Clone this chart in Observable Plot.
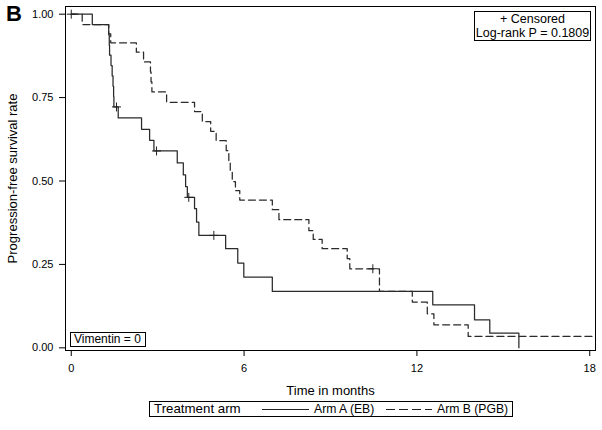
<!DOCTYPE html>
<html><head><meta charset="utf-8">
<script src="https://cdn.jsdelivr.net/npm/d3@7"></script>
<script src="https://cdn.jsdelivr.net/npm/@observablehq/plot@0.6"></script>
<style>
body{margin:0;background:#fff;font-family:"Liberation Sans",Arial,sans-serif;color:#000;}
#wrap{position:relative;width:602px;height:430px;overflow:hidden;}
.abs{position:absolute;white-space:nowrap;}
.box{position:absolute;border:1px solid #000;background:#fff;box-sizing:border-box;}
</style></head><body><div id="wrap"></div>
<script>
// Arm A (EB): Kaplan–Meier steps (time in months, survival after event)
const armA_time = [0, 0.73, 1.30, 1.32, 1.33, 1.38, 1.42, 1.45, 1.47, 1.48, 1.63, 2.44, 2.72, 2.87, 3.68, 3.89, 3.97, 4.03, 4.28, 4.35, 4.43, 5.36, 5.78, 5.99, 6.98, 12.55, 14.0, 14.53, 15.54];
const armA_surv = [1, 0.969, 0.938, 0.906, 0.877, 0.846, 0.815, 0.784, 0.753, 0.722, 0.689, 0.655, 0.622, 0.590, 0.554, 0.518, 0.483, 0.451, 0.417, 0.377, 0.337, 0.297, 0.254, 0.212, 0.169, 0.129, 0.084, 0.044, 0.0];
const armA_censTime = [0, 1.57, 2.96, 4.08, 4.95];
const armA_censSurv = [1, 0.722, 0.590, 0.451, 0.337];
// Arm B (PGB)
const armB_time = [0, 0.38, 1.30, 1.37, 2.26, 2.51, 2.75, 2.77, 2.80, 3.31, 4.28, 4.55, 4.84, 5.03, 5.38, 5.47, 5.52, 5.59, 5.70, 5.85, 6.98, 7.21, 8.25, 8.40, 8.71, 9.58, 9.67, 10.70, 11.84, 12.36, 12.59, 13.78, 18.2];
const armB_surv = [1, 0.969, 0.941, 0.914, 0.886, 0.857, 0.827, 0.797, 0.767, 0.736, 0.708, 0.678, 0.649, 0.621, 0.591, 0.556, 0.526, 0.498, 0.471, 0.443, 0.414, 0.384, 0.351, 0.325, 0.297, 0.267, 0.237, 0.169, 0.137, 0.102, 0.069, 0.034, 0.034];
const armB_censTime = [10.47];
const armB_censSurv = [0.237];

const xTicks = [0, 6, 12, 18];
const yTicks = [0, 0.25, 0.5, 0.75, 1];

const arms = ["Arm A (EB)", "Arm B (PGB)"];
const mk = (t, s, arm) => t.map((v, i) => ({time: v, surv: s[i], arm}));
const lineA = mk(armA_time, armA_surv, arms[0]);
const lineB = mk(armB_time, armB_surv, arms[1]);
const cens = mk(armA_censTime, armA_censSurv, arms[0]).concat(mk(armB_censTime, armB_censSurv, arms[1]));

const font = "'Liberation Sans', Arial, sans-serif";
const svg = Plot.plot({
  width: 602, height: 430,
  marginLeft: 65, marginRight: 7, marginTop: 6, marginBottom: 80,
  style: {fontFamily: font, fontSize: "11px", color: "#000", background: "#fff"},
  x: {domain: [-0.2, 18.2], ticks: xTicks, label: "Time in months", labelArrow: "none", labelAnchor: "center", labelOffset: 44, tickSize: 6, tickPadding: 8},
  y: {domain: [-0.008, 1.023], ticks: yTicks, tickFormat: d3.format(".2f"), label: "Progression-free survival rate", labelArrow: "none", labelAnchor: "center", labelOffset: 58, tickSize: 6, tickPadding: 6},
  marks: [
    Plot.frame({stroke: "#000"}),
    Plot.line(lineB, {x: "time", y: "surv", curve: "step-after", stroke: "#2a2a2a", strokeWidth: 1.25, strokeDasharray: "7,4"}),
    Plot.line(lineA, {x: "time", y: "surv", curve: "step-after", stroke: "#2a2a2a", strokeWidth: 1.25}),
    Plot.dot(cens, {x: "time", y: "surv", symbol: "plus", r: 3, stroke: "#222", strokeWidth: 1})
  ]
});
d3.select(svg).selectAll('[aria-label="x-axis label"], [aria-label="y-axis label"]').attr("font-size", "13px")
  .selectAll("text").text(function() { return this.textContent.replace(/\s*[↑→←↓]\s*/g, ""); });
const wrap = document.getElementById("wrap");
svg.style.position = "absolute"; svg.style.left = "0"; svg.style.top = "0";
wrap.appendChild(svg);

function add(html, css, cls) {
  const d = document.createElement("div");
  d.className = cls || "abs";
  d.innerHTML = html;
  Object.assign(d.style, css);
  wrap.appendChild(d);
  return d;
}
// Panel letter
add("B", {left: "6px", top: "1px", fontSize: "22px", fontWeight: "bold"});
// Censored / log-rank box
add('<div style="text-align:center;line-height:14px;font-size:12.5px;padding-top:0px">+ Censored<br>Log-rank P = 0.1809</div>',
  {left: "474px", top: "11px", width: "117px", height: "30px"}, "box");
// Vimentin box
add('<div style="font-size:12px;line-height:13px;padding-left:3px">Vimentin = 0</div>',
  {left: "70px", top: "332px", width: "76px", height: "15px"}, "box");
// Legend
const leg = add("", {left: "149px", top: "401px", width: "364px", height: "16px"}, "box");
leg.innerHTML =
  '<span class="abs" style="left:4px;top:0px;font-size:13.3px;line-height:14px">Treatment arm</span>' +
  '<svg class="abs" style="left:112px;top:0px" width="48" height="14"><line x1="0" y1="7.5" x2="47" y2="7.5" stroke="#222" stroke-width="1"/></svg>' +
  '<span class="abs" style="left:164px;top:0px;font-size:12.2px;line-height:14px">' + arms[0] + '</span>' +
  '<svg class="abs" style="left:236px;top:0px" width="48" height="14"><line x1="0" y1="7.5" x2="46" y2="7.5" stroke="#222" stroke-width="1" stroke-dasharray="9,4"/></svg>' +
  '<span class="abs" style="left:287px;top:0px;font-size:12.2px;line-height:14px">' + arms[1] + '</span>';
</script></body></html>
